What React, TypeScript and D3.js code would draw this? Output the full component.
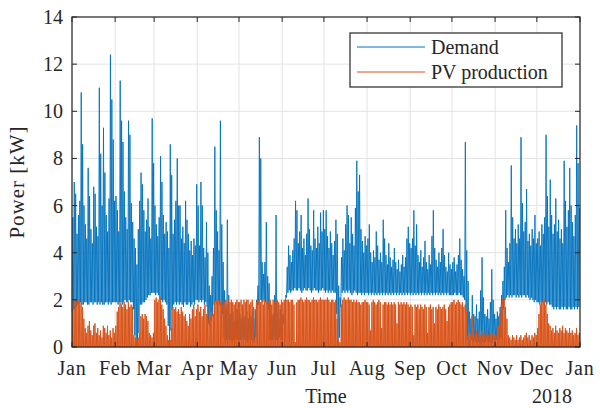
import * as d3 from 'd3';

// Daily values (kW), one sub-array per month of 2017
const demandPeak: number[][] = [
  [5.5, 7.0, 6.5, 4.8, 5.6, 6.2, 10.8, 8.6, 6.0, 5.2, 4.6, 7.6, 6.4, 5.0, 4.4, 6.8, 6.5, 5.1, 4.7, 11.0, 8.2, 6.0, 9.3, 7.4, 5.6, 4.9, 6.3, 12.4, 10.5, 8.8, 6.2],
  [6.4, 5.8, 4.9, 11.3, 9.6, 8.7, 6.6, 5.5, 5.0, 9.6, 9.0, 6.1, 5.3, 4.6, 4.2, 3.5, 5.0, 6.2, 7.4, 6.9, 5.8, 4.9, 5.4, 6.3, 5.1, 4.6, 9.7, 7.8],
  [6.0, 5.2, 4.7, 5.5, 8.1, 7.0, 5.6, 4.8, 5.3, 4.9, 4.2, 8.6, 7.3, 4.8, 5.4, 6.2, 8.0, 6.0, 6.0, 4.6, 5.1, 4.4, 6.2, 5.4, 4.8, 4.1, 4.5, 3.9, 4.6, 4.3, 6.9],
  [6.0, 4.3, 7.0, 6.0, 4.2, 3.8, 5.3, 4.0, 2.6, 2.2, 3.0, 4.2, 8.5, 5.8, 4.9, 4.1, 9.6, 5.2, 3.6, 2.4, 1.6, 5.4, 2.2, 1.4, 1.2, 1.5, 1.1, 1.3, 1.6, 1.2],
  [1.4, 1.2, 1.6, 1.3, 1.1, 1.5, 1.2, 1.4, 1.3, 1.5, 1.2, 1.6, 2.0, 2.6, 8.9, 8.0, 3.6, 3.1, 3.6, 5.3, 3.0, 2.7, 1.5, 1.3, 1.4, 2.2, 5.6, 1.4, 1.2, 1.6, 1.3],
  [1.4, 1.6, 2.2, 3.4, 4.3, 3.9, 3.6, 4.1, 4.6, 6.2, 5.8, 4.4, 4.9, 5.6, 4.2, 4.6, 3.9, 4.8, 6.3, 5.0, 4.3, 4.1, 5.8, 4.6, 4.2, 5.1, 4.4, 5.7, 4.9, 5.8],
  [5.0, 5.8, 4.7, 4.2, 4.9, 4.4, 3.9, 4.5, 5.4, 4.8, 2.6, 2.1, 3.8, 4.6, 4.1, 5.2, 6.0, 5.6, 4.4, 5.5, 4.8, 4.3, 5.9, 7.9, 6.6, 7.3, 5.0, 4.5, 4.0, 4.7, 4.3],
  [4.6, 5.2, 4.0, 3.6, 4.1, 3.8, 4.9, 4.3, 3.7, 4.0, 3.6, 5.4, 4.6, 3.9, 3.5, 4.4, 3.8, 3.4, 3.7, 4.2, 3.6, 3.3, 3.7, 3.2, 3.5, 3.9, 3.4, 3.8, 4.6, 5.1, 4.4],
  [4.2, 4.6, 5.8, 4.3, 5.2, 3.9, 3.6, 4.1, 3.4, 3.8, 4.5, 3.6, 3.3, 3.9, 3.5, 4.7, 5.8, 4.2, 3.7, 3.4, 4.0, 3.6, 4.2, 5.0, 3.9, 3.4, 3.2, 4.0, 3.5, 3.3],
  [3.6, 3.8, 3.2, 3.5, 3.9, 4.6, 3.7, 3.3, 3.0, 8.7, 4.1, 2.8, 1.5, 1.2, 2.2, 1.4, 1.3, 1.8, 1.2, 1.5, 2.4, 3.8, 2.1, 1.4, 1.3, 1.6, 1.2, 1.9, 3.3, 2.0, 1.4],
  [1.2, 1.5, 1.3, 1.7, 2.2, 2.8, 3.4, 5.8, 4.2, 3.6, 4.4, 7.7, 5.5, 4.6, 5.0, 4.4, 5.2, 4.6, 8.9, 6.1, 4.9, 5.3, 6.7, 4.5, 4.8, 4.3, 5.0, 4.6, 5.6, 4.4],
  [4.6, 4.9, 4.3, 5.2, 4.8, 5.5, 9.0, 6.4, 5.1, 7.1, 5.6, 4.8, 5.2, 6.3, 4.9, 5.4, 4.6, 5.0, 4.4, 7.9, 6.2, 5.1, 5.8, 7.6, 6.0, 5.3, 4.7, 5.6, 9.4, 7.8, 5.9],
];

const demandBase: number[][] = [
  [1.5, 1.6, 1.6, 1.7, 1.8, 1.8, 1.9, 1.8, 1.8, 1.9, 1.9, 1.8, 1.8, 1.9, 1.9, 1.8, 1.9, 1.9, 1.8, 1.9, 1.8, 1.9, 1.8, 1.8, 1.9, 1.9, 1.8, 1.9, 1.8, 1.9, 1.9],
  [1.9, 1.9, 1.8, 1.9, 1.9, 1.8, 1.9, 2.0, 1.9, 1.9, 2.0, 1.9, 1.9, 1.6, 0.5, 0.0, 0.0, 0.6, 1.8, 1.8, 1.9, 1.9, 2.0, 2.1, 2.2, 2.2, 2.3, 2.3],
  [2.3, 2.2, 2.3, 2.2, 2.0, 2.0, 1.9, 2.0, 1.9, 1.8, 0.9, 0.0, 0.7, 1.6, 1.8, 1.9, 1.8, 1.9, 1.8, 1.9, 1.8, 1.7, 1.9, 1.8, 1.8, 1.9, 1.7, 1.8, 1.9, 1.8, 2.0],
  [2.0, 1.9, 2.0, 1.9, 2.0, 1.8, 1.9, 1.7, 1.0, 0.9, 1.1, 1.3, 1.8, 1.9, 1.8, 1.9, 1.8, 1.7, 1.4, 0.4, 0.3, 0.3, 0.4, 0.3, 0.3, 0.2, 0.3, 0.3, 0.4, 0.3],
  [0.3, 0.3, 0.3, 0.4, 0.3, 0.3, 0.2, 0.3, 0.4, 0.3, 0.3, 0.2, 0.4, 1.6, 1.8, 2.0, 2.0, 1.9, 2.0, 1.9, 1.8, 1.6, 0.3, 0.3, 0.3, 0.4, 0.3, 0.3, 0.3, 0.4, 0.3],
  [0.4, 1.0, 1.6, 2.1, 2.3, 2.4, 2.3, 2.4, 2.4, 2.5, 2.4, 2.4, 2.5, 2.4, 2.3, 2.4, 2.5, 2.4, 2.4, 2.5, 2.4, 2.3, 2.4, 2.5, 2.4, 2.4, 2.3, 2.4, 2.4, 2.5],
  [2.4, 2.3, 2.4, 2.3, 2.4, 2.3, 2.4, 2.3, 2.3, 1.4, 0.0, 0.4, 1.7, 2.3, 2.4, 2.3, 2.4, 2.3, 2.4, 2.3, 2.2, 2.3, 2.4, 2.3, 2.2, 2.3, 2.3, 2.2, 2.3, 2.2, 2.3],
  [2.3, 2.2, 2.3, 2.2, 2.3, 2.2, 2.3, 2.2, 2.3, 2.2, 2.3, 2.2, 2.3, 2.2, 2.3, 2.2, 2.3, 2.2, 2.3, 2.2, 2.3, 2.2, 2.3, 2.2, 2.3, 2.2, 2.3, 2.2, 2.3, 2.2, 2.3],
  [2.2, 2.3, 2.2, 2.3, 2.2, 2.3, 2.2, 2.3, 2.2, 2.3, 2.2, 2.3, 2.2, 2.3, 2.2, 2.3, 2.2, 2.3, 2.2, 2.3, 2.2, 2.3, 2.2, 2.3, 2.2, 2.3, 2.2, 2.3, 2.2, 2.2],
  [2.2, 2.2, 2.3, 2.2, 2.2, 2.3, 2.2, 2.2, 2.1, 2.0, 1.4, 0.3, 0.0, 0.2, 0.3, 0.2, 0.3, 0.2, 0.3, 0.2, 0.1, 0.0, 0.2, 0.3, 0.2, 0.3, 0.2, 0.2, 0.3, 0.2, 0.3],
  [0.2, 0.3, 0.2, 0.3, 0.4, 0.9, 1.6, 2.0, 2.1, 2.2, 2.1, 2.2, 2.1, 2.2, 2.2, 2.1, 2.2, 2.1, 2.2, 2.1, 2.2, 2.2, 2.1, 2.2, 2.1, 2.0, 2.1, 2.0, 1.9, 2.0],
  [1.9, 1.9, 1.8, 1.9, 1.9, 1.8, 1.9, 1.8, 1.9, 1.8, 1.8, 1.7, 1.6, 1.7, 1.6, 1.7, 1.6, 1.6, 1.7, 1.6, 1.7, 1.6, 1.6, 1.7, 1.6, 1.6, 1.7, 1.6, 1.7, 1.6, 1.7],
];

const pvPeak: number[][] = [
  [1.6, 2.0, 2.0, 1.9, 2.0, 1.8, 1.9, 1.7, 1.2, 0.8, 0.6, 0.9, 1.1, 0.7, 0.5, 0.9, 1.0, 0.6, 0.8, 0.5, 0.7, 0.4, 0.9, 0.8, 0.6, 0.9, 0.5, 0.7, 0.4, 0.8, 0.6],
  [0.9, 1.5, 1.7, 1.9, 1.8, 1.7, 1.9, 1.8, 1.6, 1.9, 1.7, 1.8, 1.7, 0.5, 0.4, 0.3, 0.4, 0.6, 1.3, 1.4, 1.2, 1.4, 1.3, 1.1, 0.6, 0.5, 0.4, 0.6],
  [2.0, 2.1, 1.9, 2.0, 2.1, 1.8, 1.6, 1.2, 0.9, 0.5, 0.3, 0.3, 0.8, 1.7, 1.6, 1.7, 1.5, 1.6, 1.4, 1.7, 1.5, 1.3, 1.4, 1.1, 0.9, 1.4, 1.2, 1.6, 1.8, 1.3, 1.6],
  [1.8, 1.5, 1.7, 1.3, 1.6, 1.8, 1.4, 1.7, 1.2, 1.3, 1.5, 1.4, 1.9, 2.0, 1.9, 2.0, 1.9, 2.0, 1.8, 1.9, 2.0, 1.8, 2.0, 1.9, 2.0, 1.9, 1.8, 1.9, 2.0, 1.9],
  [1.9, 2.0, 1.8, 2.0, 1.9, 2.0, 2.0, 1.8, 1.9, 2.0, 1.7, 0.4, 1.9, 2.0, 2.0, 1.9, 2.0, 1.8, 2.0, 1.9, 2.0, 1.9, 2.0, 1.8, 2.0, 1.9, 2.0, 2.0, 1.9, 1.8, 2.0],
  [1.9, 2.0, 1.9, 2.0, 2.0, 1.9, 2.0, 2.0, 1.8, 0.2, 1.9, 2.0, 2.0, 2.1, 2.0, 1.9, 2.0, 2.1, 2.0, 2.0, 1.9, 2.0, 2.1, 2.0, 2.0, 1.9, 2.0, 2.1, 2.0, 2.0],
  [2.0, 2.0, 2.1, 2.0, 1.9, 2.0, 2.0, 1.9, 2.0, 1.2, 0.3, 0.2, 1.8, 2.0, 2.1, 2.0, 2.0, 2.1, 2.0, 2.0, 1.9, 2.0, 1.9, 2.0, 1.9, 1.9, 1.8, 1.9, 1.9, 2.0, 1.9],
  [1.9, 1.8, 0.7, 1.9, 2.0, 1.9, 1.8, 1.9, 2.0, 1.9, 0.8, 1.8, 1.9, 1.9, 1.8, 1.9, 1.8, 1.9, 1.8, 1.9, 1.8, 1.0, 1.9, 1.8, 1.9, 1.8, 1.9, 1.8, 1.9, 1.8, 1.7],
  [1.8, 1.7, 0.5, 1.8, 1.7, 1.8, 1.6, 1.8, 1.7, 1.6, 1.8, 1.7, 0.6, 1.7, 1.8, 1.6, 1.7, 1.0, 1.7, 1.6, 1.8, 1.7, 1.6, 1.7, 1.8, 1.6, 1.1, 1.7, 1.8, 1.9],
  [1.9, 2.0, 1.8, 1.9, 2.0, 1.9, 1.8, 1.9, 1.7, 1.8, 1.6, 0.5, 0.3, 0.6, 1.3, 0.8, 0.5, 0.7, 0.4, 0.6, 0.5, 0.7, 0.6, 0.5, 0.6, 0.7, 0.5, 0.6, 0.4, 0.6, 0.5],
  [0.5, 0.6, 0.9, 1.4, 1.8, 2.0, 2.1, 1.7, 1.2, 0.5, 0.4, 0.3, 0.5, 0.4, 0.3, 0.5, 0.3, 0.4, 0.5, 0.3, 0.4, 0.5, 0.6, 0.4, 0.5, 0.3, 0.5, 0.4, 0.6, 0.5],
  [0.8, 1.4, 1.8, 2.0, 1.9, 2.0, 1.8, 1.4, 1.0, 0.9, 0.7, 0.8, 0.6, 0.9, 0.7, 0.6, 0.8, 0.7, 0.9, 0.6, 0.8, 0.7, 0.6, 0.8, 0.6, 0.7, 0.5, 0.6, 0.8, 0.5, 0.6],
];

const yTicks = [0, 2, 4, 6, 8, 10, 12, 14];
const seriesNames = ['Demand', 'PV production'];

const W = 600;
const H = 408;
const margin = { top: 17, right: 20, bottom: 61, left: 72 };
const innerW = W - margin.left - margin.right;
const innerH = H - margin.top - margin.bottom;

const BLUE = '#0072BD';
const ORANGE = '#D95319';
const FONT = '"Liberation Serif", "Times New Roman", serif';

type Pt = { t: Date; v: number };

export default function App() {
  const x = d3.scaleTime()
    .domain([new Date(2017, 0, 1), new Date(2018, 0, 1)])
    .range([0, innerW]);
  const y = d3.scaleLinear().domain([0, 14]).range([innerH, 0]);

  // night base -> daytime peak for each day
  const demandPts: Pt[] = [];
  demandPeak.forEach((month, m) => {
    month.forEach((peak, i) => {
      demandPts.push({ t: new Date(2017, m, 1 + i, 3), v: demandBase[m][i] });
      demandPts.push({ t: new Date(2017, m, 1 + i, 15), v: peak });
    });
  });

  const pvPts: Pt[] = [];
  pvPeak.forEach((month, m) => {
    month.forEach((peak, i) => {
      pvPts.push({ t: new Date(2017, m, 1 + i, 6), v: 0 });
      pvPts.push({ t: new Date(2017, m, 1 + i, 12), v: peak });
      pvPts.push({ t: new Date(2017, m, 1 + i, 18), v: 0 });
    });
  });

  const line = d3.line<Pt>().x(d => x(d.t)).y(d => y(d.v));
  const months = d3.timeMonth.range(new Date(2017, 0, 1), new Date(2018, 0, 2));
  const fmt = d3.timeFormat('%b');

  return (
    <svg width={W} height={H} style={{ position: 'absolute', left: 0, top: 0, background: '#fff' }}
      fontFamily={FONT}>
      <g transform={`translate(${margin.left},${margin.top})`}>
        {/* grid */}
        {months.map((d, i) => (
          <line key={'gx' + i} x1={x(d)} x2={x(d)} y1={0} y2={innerH} stroke="#e3e3e3" strokeWidth={1} />
        ))}
        {yTicks.map(t => (
          <line key={'gy' + t} x1={0} x2={innerW} y1={y(t)} y2={y(t)} stroke="#e3e3e3" strokeWidth={1} />
        ))}

        <path d={line(demandPts) ?? ''} fill="none" stroke={BLUE} strokeWidth={0.9} />
        <path d={line(pvPts) ?? ''} fill="none" stroke={ORANGE} strokeWidth={1} />

        {/* axes box and ticks */}
        <rect x={0} y={0} width={innerW} height={innerH} fill="none" stroke="#262626" strokeWidth={1.2} />
        {months.map((d, i) => (
          <g key={'tx' + i}>
            <line x1={x(d)} x2={x(d)} y1={innerH} y2={innerH - 5} stroke="#262626" />
            <line x1={x(d)} x2={x(d)} y1={0} y2={5} stroke="#262626" />
            <text x={x(d)} y={innerH + 28} textAnchor="middle" fontSize={20} letterSpacing={0.8} fill="#262626">
              {fmt(d)}
            </text>
          </g>
        ))}
        {yTicks.map(t => (
          <g key={'ty' + t}>
            <line x1={0} x2={5} y1={y(t)} y2={y(t)} stroke="#262626" />
            <line x1={innerW} x2={innerW - 5} y1={y(t)} y2={y(t)} stroke="#262626" />
            <text x={-9} y={y(t)} dy="0.35em" textAnchor="end" fontSize={20} fill="#262626">{t}</text>
          </g>
        ))}
        <text x={innerW - 28} y={innerH + 56} textAnchor="middle" fontSize={20} fill="#262626">2018</text>
        <text x={innerW / 2} y={innerH + 56} textAnchor="middle" fontSize={20} fill="#262626">Time</text>
        <text transform={`translate(${-48},${innerH / 2}) rotate(-90)`} textAnchor="middle" fontSize={21}
          letterSpacing={1} fill="#262626">Power [kW]</text>

        {/* legend */}
        <g transform={`translate(${350 - margin.left},${33 - margin.top})`}>
          <rect x={0} y={0} width={212} height={54} fill="#fff" stroke="#262626" strokeWidth={1.2} />
          {seriesNames.map((name, i) => (
            <g key={name} transform={`translate(0,${14 + i * 25})`}>
              <line x1={7} x2={75} y1={0} y2={0} stroke={i === 0 ? BLUE : ORANGE} strokeWidth={1} />
              <text x={81} y={0} dy="0.33em" fontSize={20} fill="#262626">{name}</text>
            </g>
          ))}
        </g>
      </g>
    </svg>
  );
}
